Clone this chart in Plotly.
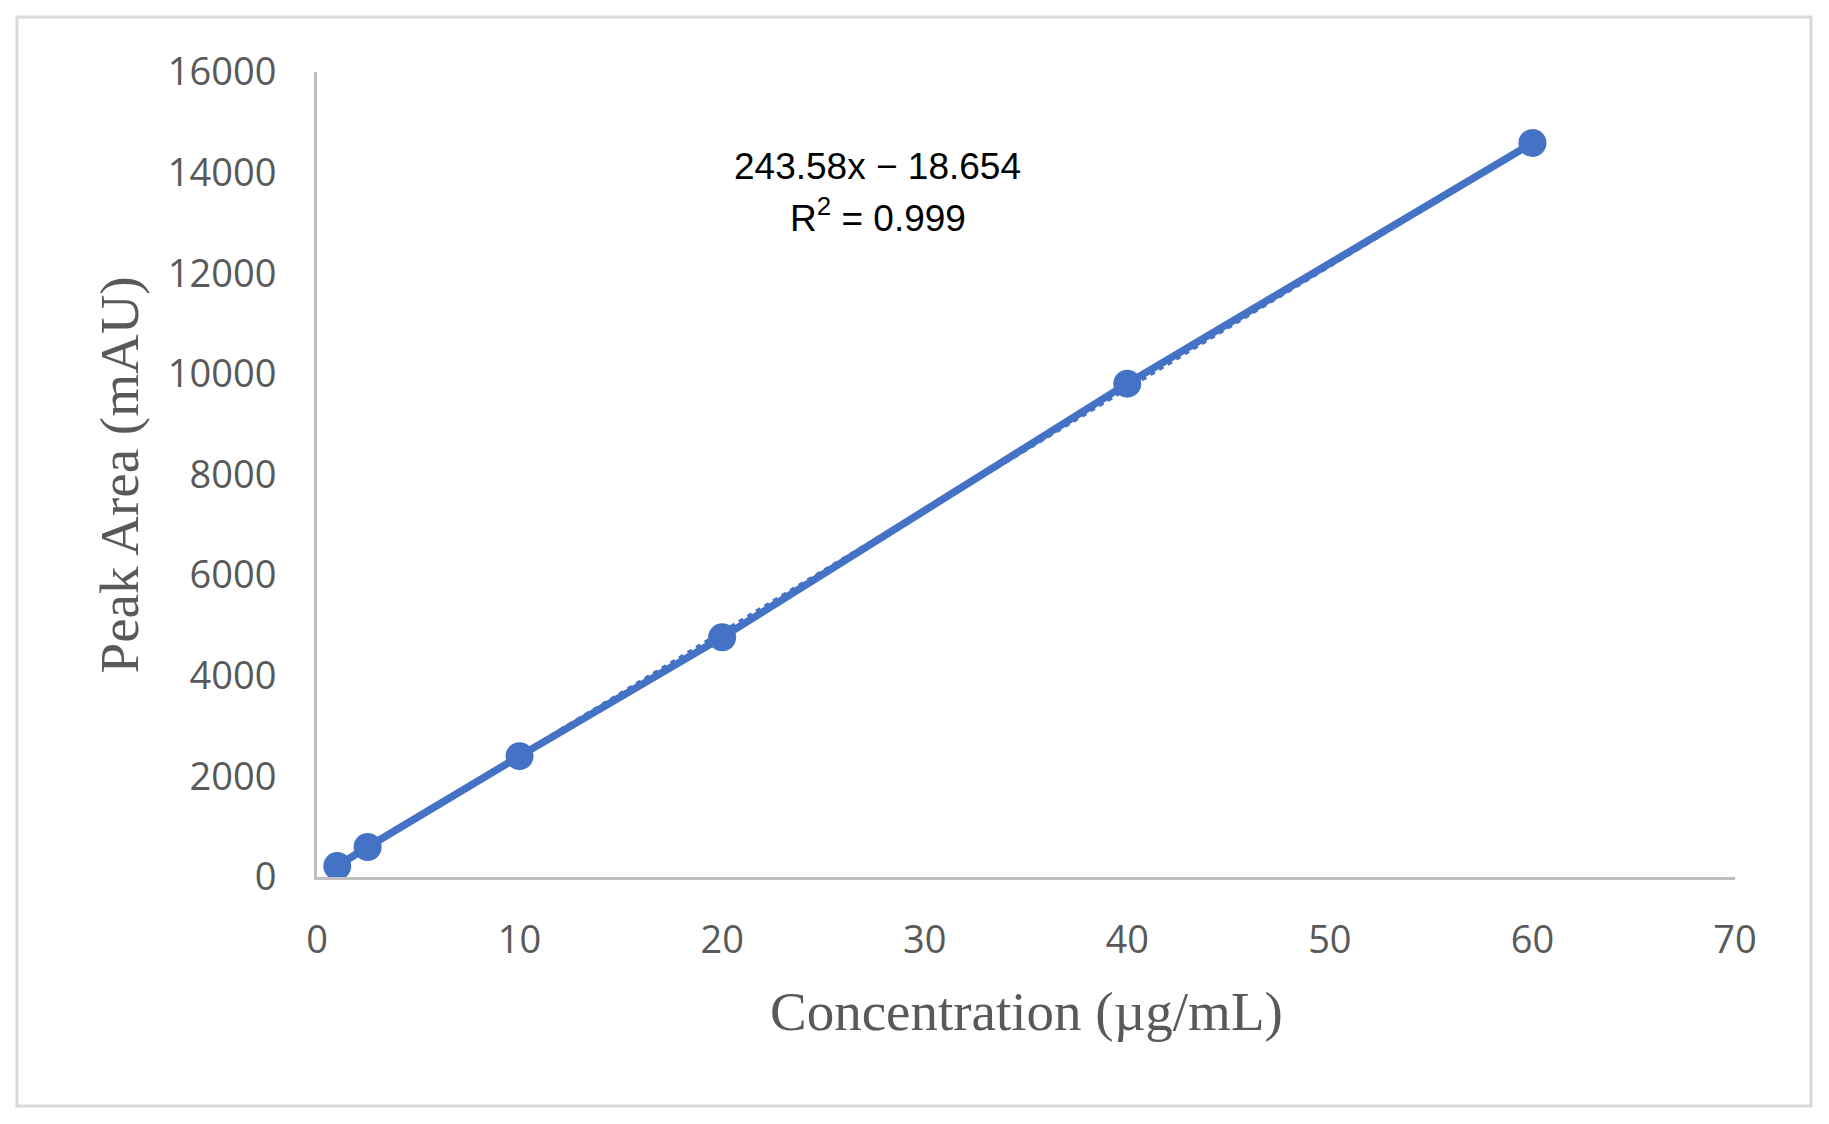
import numpy as np
import plotly.graph_objects as go

# Data
concentration = [1, 2.5, 10, 20, 40, 60]
peak_area = [218, 596, 2402, 4764, 9806, 14589]

# Displayed trendline equation
slope = 243.58
intercept = -18.654
r_squared = "0.999"

x_ticks = [0, 10, 20, 30, 40, 50, 60, 70]
y_ticks = [0, 2000, 4000, 6000, 8000, 10000, 12000, 14000, 16000]

blue = "#4472C4"
grey_text = "#595959"
axis_grey = "#BFBFBF"

trend_x = np.array([min(concentration), max(concentration)], dtype=float)
trend_y = slope * trend_x + intercept

fig = go.Figure()
fig.add_trace(go.Scatter(
    x=trend_x, y=trend_y, mode="lines",
    line=dict(color=blue, width=5, dash="dot"),
    hoverinfo="skip", showlegend=False,
))
fig.add_trace(go.Scatter(
    x=concentration, y=peak_area, mode="lines+markers",
    line=dict(color=blue, width=7.5),
    marker=dict(color=blue, size=28),
    showlegend=False,
))

tick_font = dict(family="Open Sans", size=38, color=grey_text)
title_font = dict(family="Liberation Serif", size=55, color=grey_text)
eq_font = dict(family="Liberation Sans", size=37, color="black")

fig.update_layout(
    width=1813, height=1108,
    margin=dict(l=309, r=86, t=64, b=239),
    paper_bgcolor="white", plot_bgcolor="white",
    xaxis=dict(
        range=[0, 70], tickvals=x_ticks, ticktext=[str(v) for v in x_ticks],
        showgrid=False, zeroline=False, showline=True,
        linecolor=axis_grey, linewidth=3, ticks="",
        tickfont=tick_font, ticklabelstandoff=27,
    ),
    yaxis=dict(
        range=[0, 16000], tickvals=y_ticks, ticktext=[str(v) for v in y_ticks],
        showgrid=False, zeroline=False, showline=True,
        linecolor=axis_grey, linewidth=3, ticks="",
        tickfont=tick_font, ticklabelstandoff=30,
    ),
    shapes=[dict(
        type="rect", xref="paper", yref="paper",
        x0=-0.2116, x1=1.0536, y0=-0.2845, y1=1.0683,
        line=dict(color="#D9D9D9", width=3), fillcolor="rgba(0,0,0,0)",
        layer="below",
    )],
    annotations=[
        dict(text="Concentration (µg/mL)", xref="paper", yref="paper",
             x=0.5, y=-0.1675, xanchor="center", yanchor="middle",
             showarrow=False, font=title_font),
        dict(text="Peak Area (mAU)", xref="paper", yref="paper",
             x=-0.139, y=0.5, xanchor="center", yanchor="middle",
             textangle=-90, showarrow=False, font=title_font),
        dict(text=f"{slope:.2f}x \u2212 {abs(intercept):.3f}", xref="paper", yref="paper",
             x=0.3955, y=0.883, xanchor="center", yanchor="middle",
             showarrow=False, font=eq_font),
        dict(text=f"R<sup>2</sup> = {r_squared}", xref="paper", yref="paper",
             x=0.3955, y=0.822, xanchor="center", yanchor="middle",
             showarrow=False, font=eq_font),
    ],
)

fig.write_html("out.html")
